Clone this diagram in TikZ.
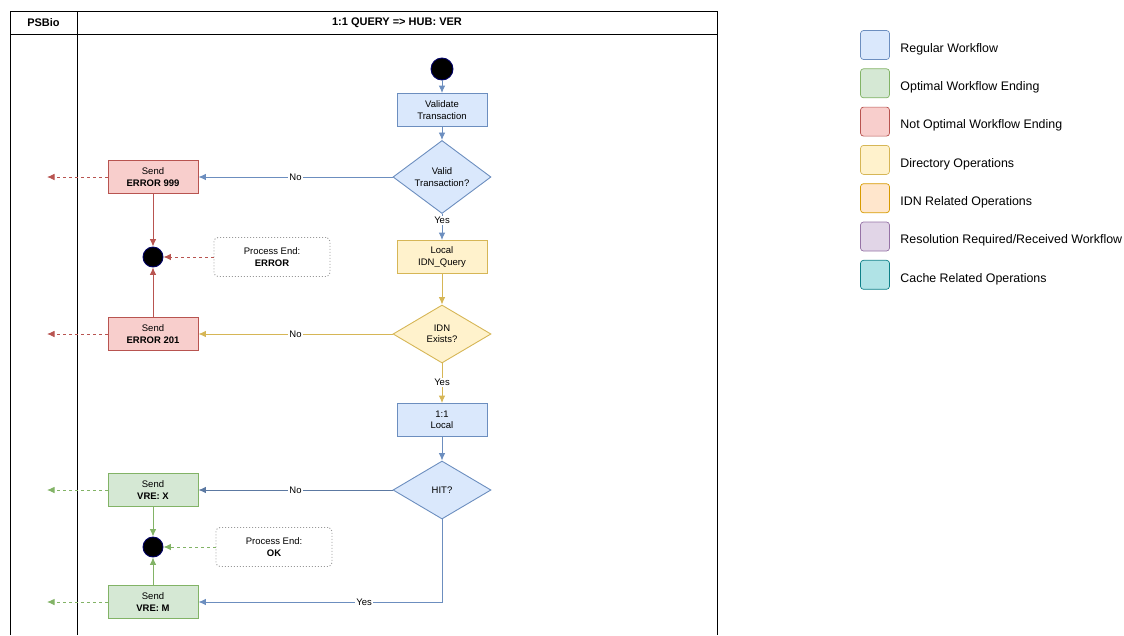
\documentclass[tikz,border=0pt]{standalone}
\usepackage{fontspec}
\setmainfont{Liberation Sans}
\usetikzlibrary{shapes.geometric,arrows.meta,calc,positioning}
\usepackage{xcolor}
\definecolor{regfill}{HTML}{DAE8FC}
\definecolor{regline}{HTML}{6C8EBF}
\definecolor{okfill}{HTML}{D5E8D4}
\definecolor{okline}{HTML}{82B366}
\definecolor{errfill}{HTML}{F8CECC}
\definecolor{errline}{HTML}{B85450}
\definecolor{dirfill}{HTML}{FFF2CC}
\definecolor{dirline}{HTML}{D6B656}
\definecolor{idnfill}{HTML}{FFE6CC}
\definecolor{idnline}{HTML}{D79B00}
\definecolor{resfill}{HTML}{E1D5E7}
\definecolor{resline}{HTML}{9673A6}
\definecolor{cachefill}{HTML}{B0E3E6}
\definecolor{cacheline}{HTML}{0E8088}
\newcommand{\nodefont}{\fontsize{9.5}{11.5}\selectfont}
\tikzset{
    boxsty/.style={rectangle,minimum width=90pt,minimum height=33pt,align=center,font=\nodefont,inner sep=1pt},
    regsty/.style={boxsty,fill=regfill,draw=regline},
    oksty/.style={boxsty,fill=okfill,draw=okline},
    errsty/.style={boxsty,fill=errfill,draw=errline},
    dirsty/.style={boxsty,fill=dirfill,draw=dirline},
    decsty/.style={diamond,minimum width=98pt,minimum height=58pt,inner sep=0pt,align=center,font=\nodefont},
    regdecsty/.style={decsty,fill=regfill,draw=regline},
    dirdecsty/.style={decsty,fill=dirfill,draw=dirline},
    startsty/.style={circle,fill=black,draw=blue!40!black,minimum size=22pt,inner sep=0pt},
    endsty/.style={circle,fill=black,draw=blue!40!black,minimum size=20pt,inner sep=0pt},
    notesty/.style={rectangle,rounded corners=4pt,draw=gray!80,dash pattern=on 1pt off 2pt,minimum width=116pt,minimum height=39pt,align=center,font=\nodefont},
    lblsty/.style={fill=white,inner sep=1pt,font=\nodefont,text=black},
    headsty/.style={font=\fontsize{11}{13}\selectfont\bfseries},
    legsty/.style={rectangle,rounded corners=3pt,minimum size=29pt,inner sep=0pt},
    legtxtsty/.style={anchor=west,font=\fontsize{12.4}{14}\selectfont,inner sep=0pt},
    outsty/.style={->,dash pattern=on 3pt off 3pt},
}

\begin{document}
\begin{tikzpicture}[x=1pt,y=-1pt,>={Latex[length=7.5pt,width=6.5pt]},line width=0.9pt]
\useasboundingbox (0,0) rectangle (1124,635);

% swimlane frame
\draw[line width=1pt] (10,635) -- (10,11) -- (717,11) -- (717,635);
\draw[line width=1pt] (77,11) -- (77,635);
\draw[line width=1pt] (10,34) -- (717,34);
\node[headsty] (lanea) at (43.5,22.5) {PSBio};
\node[headsty] (laneb) at (397,22.5) {1:1 QUERY => HUB: VER};

% main flow
\node[startsty] (start) at (442,69) {};
\node[regsty] (valtx) at (442,110) {Validate\\Transaction};
\node[regdecsty] (isvalid) at (442,177) {Valid\\Transaction?};
\node[dirsty] (idnq) at (442,257) {Local\\IDN\_Query};
\node[dirdecsty] (idnex) at (442,334) {IDN\\Exists?};
\node[regsty] (loc) at (442,420) {1:1\\Local};
\node[regdecsty] (hit) at (442,490) {HIT?};

% error branch
\node[errsty] (err999) at (153,177) {Send\\\textbf{ERROR 999}};
\node[endsty] (enderr) at (153,257) {};
\node[notesty] (noteerr) at (272,257) {Process End:\\\textbf{ERROR}};
\node[errsty] (err201) at (153,334) {Send\\\textbf{ERROR 201}};

% ok branch
\node[oksty] (vrex) at (153,490) {Send\\\textbf{VRE: X}};
\node[endsty] (endok) at (153,547) {};
\node[notesty] (noteok) at (274,547) {Process End:\\\textbf{OK}};
\node[oksty] (vrem) at (153,602) {Send\\\textbf{VRE: M}};

\coordinate (out999) at (47,177);
\coordinate (out201) at (47,334);
\coordinate (outx) at (47,490);

% connectors
\draw[->,regline] (start) -- (valtx);
\draw[->,regline] (valtx) -- (isvalid);
\draw[->,regline] (isvalid) -- node[lblsty,pos=0.24] {Yes} (idnq);
\draw[->,regline] (isvalid.west) -- node[lblsty] {No} (err999.east);
\draw[->,dirline] (idnq) -- (idnex);
\draw[->,dirline] (idnex.west) -- node[lblsty] {No} (err201.east);
\draw[->,dirline] (idnex) -- node[lblsty,pos=0.48] {Yes} (loc);
\draw[->,regline] (loc) -- (hit);
\draw[->,regline!85!black] (hit.west) -- node[lblsty] {No} (vrex.east);
\draw[->,regline] (hit.south) |- node[lblsty,pos=0.66] {Yes} (vrem.east);

\draw[->,errline] (err999) -- (enderr);
\draw[->,errline] (err201) -- (enderr);
\draw[outsty,errline] (noteerr) -- (enderr);
\draw[outsty,errline] (err999.west) -- (out999);
\draw[outsty,errline] (err201.west) -- (out201);

\draw[->,okline] (vrex) -- (endok);
\draw[->,okline] (vrem) -- (endok);
\draw[outsty,okline] (noteok) -- (endok);
\draw[outsty,okline] (vrex.west) -- (outx);
\draw[outsty,okline] (vrem.west) -- (vrem.west -| outx);

% legend
\foreach \clr/\txt [count=\i from 0] in {reg/Regular Workflow,ok/Optimal Workflow Ending,err/Not Optimal Workflow Ending,dir/Directory Operations,idn/IDN Related Operations,res/{Resolution Required/Received Workflow},cache/Cache Related Operations}{
    \node[legsty,line width=0.7pt,fill=\clr fill,draw=\clr line] (leg\i) at (875,{45+38.3*\i}) {};
    \node[legtxtsty] (legtxt\i) at (900,{49+38.3*\i}) {\txt};
}
\end{tikzpicture}
\end{document}
